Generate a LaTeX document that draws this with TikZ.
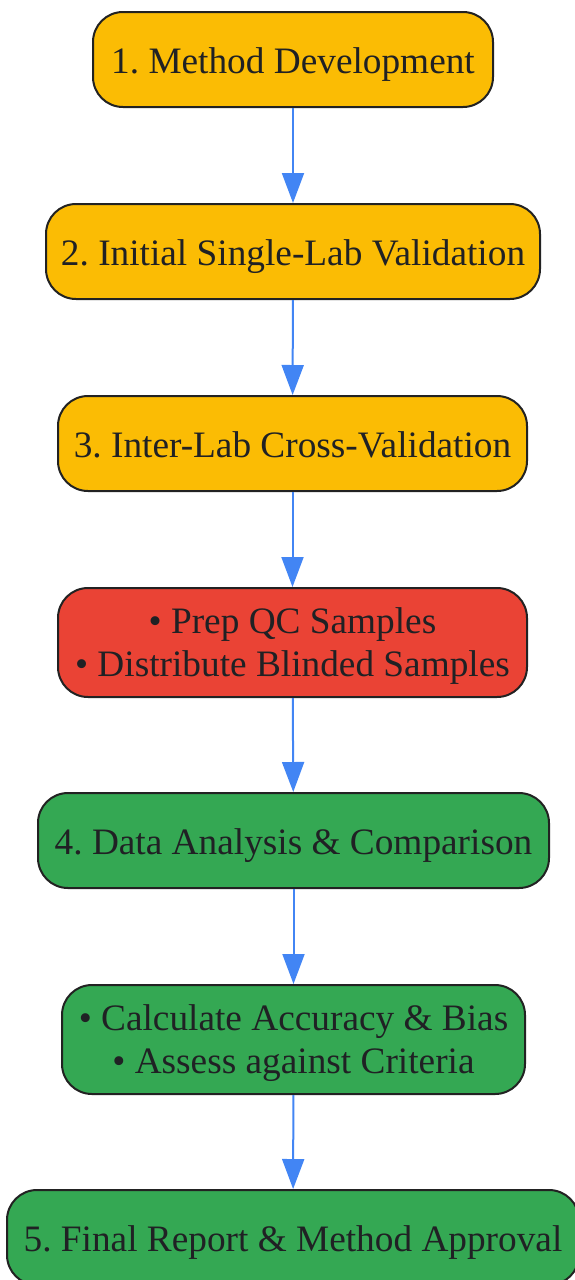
\documentclass[tikz,border=0pt]{standalone}
\usepackage{fontspec}
\setmainfont{Liberation Serif}
\usetikzlibrary{arrows.meta}
\frenchspacing
\definecolor{cyel}{HTML}{FBBC04}
\definecolor{cred}{HTML}{EA4335}
\definecolor{cgrn}{HTML}{34A853}
\definecolor{carr}{HTML}{4285F4}
\definecolor{cbrd}{HTML}{222222}
\definecolor{ctxt}{HTML}{202124}
\tikzset{
  box/.style={draw=cbrd, line width=2pt, rounded corners=30pt, inner sep=0pt,
    align=center, text=ctxt, font=\fontsize{37.3}{43.4}\selectfont},
  one/.style={text height=30pt, text depth=2.4pt, minimum height=95pt},
  two/.style={text height=73.4pt, text depth=5pt, minimum height=109pt},
  ybox/.style={box, one, fill=cyel},
  rbox/.style={box, two, fill=cred},
  gbox/.style={box, one, fill=cgrn},
  gbox2/.style={box, two, fill=cgrn},
  conn/.style={draw=carr, line width=2pt, -{Triangle[length=30pt,width=22pt]}},
}
\begin{document}
\frenchspacing
\begin{tikzpicture}[x=1pt,y=-1pt]
\useasboundingbox (0,0) rectangle (575,1280);
\node[ybox, minimum width=400pt] (n1) at (293,59.5) {1. Method Development};
\node[ybox, minimum width=494pt] (n2) at (293,251.5) {2. Initial Single-Lab Validation};
\node[ybox, minimum width=469pt] (n3) at (292.5,443.5) {3. Inter-Lab Cross-Validation};
\node[rbox, minimum width=469pt] (n4) at (292.5,642.5) {• Prep QC Samples\\• Distribute Blinded Samples};
\node[gbox, minimum width=511pt] (n5) at (293.5,840.5) {4. Data Analysis \& Comparison};
\node[gbox2, minimum width=463pt] (n6) at (293.5,1039.5) {• Calculate Accuracy \& Bias\\• Assess against Criteria};
\node[gbox, minimum width=572pt] (n7) at (293,1237.5) {5. Final Report \& Method Approval};
\draw[conn] (n1) -- (n2);
\draw[conn] (n2) -- (n3);
\draw[conn] (n3) -- (n4);
\draw[conn] (n4) -- (n5);
\draw[conn] (n5) -- (n6);
\draw[conn] (n6) -- (n7);
\end{tikzpicture}
\end{document}
